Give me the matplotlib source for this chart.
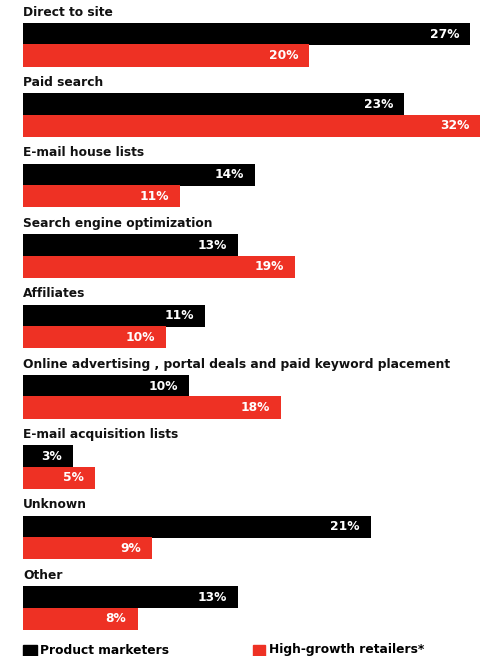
import matplotlib
matplotlib.use("Agg")
import matplotlib.pyplot as plt
from matplotlib.patches import Rectangle

plt.rcParams['font.family'] = ['DejaVu Sans']

categories = [
    "Direct to site",
    "Paid search",
    "E-mail house lists",
    "Search engine optimization",
    "Affiliates",
    "Online advertising , portal deals and paid keyword placement",
    "E-mail acquisition lists",
    "Unknown",
    "Other",
]
product_marketers = [27, 23, 14, 13, 11, 10, 3, 21, 13]
high_growth = [20, 32, 11, 19, 10, 18, 5, 9, 8]
series_names = ["Product marketers", "High-growth retailers*"]

BLACK = "#000000"
RED = "#EE3124"

fig = plt.figure(figsize=(4.81, 6.56), dpi=100)
# axes from x=23px to the right edge; y in "group" units
ax = fig.add_axes([23 / 481, 0, 458 / 481, 1])
ax.set_ylim(8.835, -0.483)
ax.set_xlim(0, 27.64)
ax.axis("off")

# red series is drawn on its own scale (as in the source graphic)
ax2 = ax.twiny()
ax2.set_ylim(8.835, -0.483)
ax2.set_xlim(0, 32)
ax2.axis("off")

bar_h = 0.315
red_off = 0.305
lab_off = -0.31
fs = 8.8

for i, (cat, pm, hg) in enumerate(zip(categories, product_marketers, high_growth)):
    ax.barh(i, pm, height=bar_h, color=BLACK, linewidth=0)
    ax2.barh(i + red_off, hg, height=bar_h, color=RED, linewidth=0)
    ax.text(0, i + lab_off, cat, fontsize=fs, fontweight="bold",
            ha="left", va="center", color="#111111")
    ax.annotate(f"{pm}%", (pm, i), xytext=(-8, 0), textcoords="offset points",
                ha="right", va="center", color="white", fontsize=fs, fontweight="bold")
    ax2.annotate(f"{hg}%", (hg, i + red_off), xytext=(-8, 0), textcoords="offset points",
                 ha="right", va="center", color="white", fontsize=fs, fontweight="bold")

# legend along the bottom
fig.patches.append(Rectangle((23 / 481, 0), 14 / 481, 11 / 656,
                             transform=fig.transFigure, color=BLACK))
fig.text(40 / 481, 1 - 650 / 656, series_names[0], fontsize=fs, fontweight="bold",
         ha="left", va="center")
fig.patches.append(Rectangle((253 / 481, 0), 12 / 481, 11 / 656,
                             transform=fig.transFigure, color=RED))
fig.text(269 / 481, 1 - 650 / 656, series_names[1], fontsize=fs, fontweight="bold",
         ha="left", va="center")

fig.savefig("out.png", dpi=100)
